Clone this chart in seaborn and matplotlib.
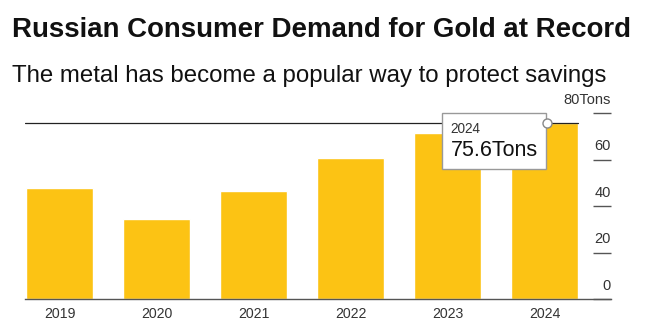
import matplotlib
matplotlib.use("Agg")
import matplotlib.pyplot as plt
import seaborn as sns
import pandas as pd
from matplotlib.offsetbox import TextArea, VPacker, AnnotationBbox

# ---- data ----
years = ["2019", "2020", "2021", "2022", "2023", "2024"]
tons = [47.7, 34.4, 46.5, 60.6, 71.2, 75.6]
y_ticks = [0, 20, 40, 60, 80]
y_tick_labels = ["0", "20", "40", "60", "80Tons"]
highlight_year = "2024"
highlight_value = 75.6

title = "Russian Consumer Demand for Gold at Record"
subtitle = "The metal has become a popular way to protect savings"

sns.set_theme(style="white")
plt.rcParams["font.family"] = ["Liberation Sans", "DejaVu Sans"]

BAR = "#FCC314"
TXT = "#333333"

df = pd.DataFrame({"year": years, "tons": tons})

fig = plt.figure(figsize=(6.46, 3.30), dpi=100)
ax = fig.add_axes([25 / 646, 31 / 330, (611 - 25) / 646, 186 / 330])

sns.barplot(data=df, x="year", y="tons", color=BAR, saturation=1, width=0.69, ax=ax)

ax.set_xlim(-0.356, 5.686)
ax.set_ylim(0, 80)
ax.set_xlabel("")
ax.set_ylabel("")

for s in ["top", "left", "right"]:
    ax.spines[s].set_visible(False)
ax.spines["bottom"].set_color("#555555")
ax.spines["bottom"].set_linewidth(1.0)

# x ticks
ax.tick_params(axis="x", length=0, pad=5.5, labelsize=10.2, labelcolor=TXT)

# y ticks: right side dashes, labels above
ax.yaxis.tick_right()
ax.set_yticks(y_ticks)
ax.set_yticklabels([])
ax.tick_params(axis="y", direction="in", length=13, width=1, color="#555555", right=True, left=False)
for v, lab in zip(y_ticks, y_tick_labels):
    ax.annotate(lab, xy=(1, v), xycoords=ax.get_yaxis_transform(),
                xytext=(0, 9.5), textcoords="offset points",
                ha="right", va="center", fontsize=10.5, color=TXT,
                annotation_clip=False)

# reference line at record level
xi = years.index(highlight_year)
ax.plot([-0.356, xi + 0.345], [highlight_value, highlight_value], color="#222222", lw=0.9, zorder=3)
ax.plot([xi + 0.03], [highlight_value], marker="o", ms=6.5, mfc="white", mec="#888888", mew=1, zorder=6)

# tooltip box
ta1 = TextArea(highlight_year, textprops=dict(fontsize=9.8, color=TXT))
ta2 = TextArea(f"{highlight_value}Tons", textprops=dict(fontsize=15.5, color="#111111"))
pack = VPacker(children=[ta1, ta2], align="left", pad=0, sep=3)
ab = AnnotationBbox(pack, (xi + 0.03, highlight_value), xycoords="data",
                    xybox=(-7, 1), boxcoords="offset points",
                    box_alignment=(1.0, 1.0), frameon=True, pad=0.55,
                    bboxprops=dict(fc="white", ec="#999999", lw=1),
                    zorder=5)
ax.add_artist(ab)

fig.text(12 / 646, 1 - 37 / 330, title, fontsize=19.9, fontweight="bold", color="#111111", va="baseline")
fig.text(12 / 646, 1 - 82 / 330, subtitle, fontsize=17.3, color="#111111", va="baseline")

fig.savefig("out.png", dpi=100, facecolor="white")
